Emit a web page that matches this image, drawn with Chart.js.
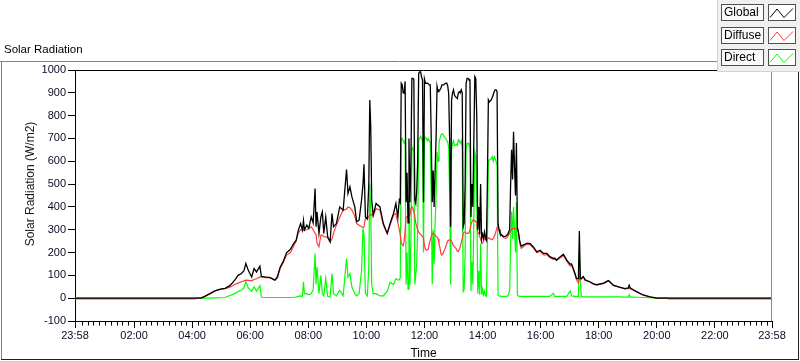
<!DOCTYPE html>
<html>
<head>
<meta charset="utf-8">
<script src="https://cdn.jsdelivr.net/npm/chart.js@4.4.1/dist/chart.umd.min.js"></script>
<style>
  html, body { margin: 0; padding: 0; background: #fff; }
  canvas { display: block; }
</style>
</head>
<body>
<canvas id="c" width="800" height="361"></canvas>
<script>
// time of each sample, minutes after midnight (-2 = 23:58 the day before)
const minutes = [
  -2, 246, 248, 258, 266, 277, 287, 298, 308, 318, 328, 335, 342, 347, 351, 356, 363, 368, 373, 380,
  383, 390, 401, 411, 416, 422, 428, 435, 443, 450, 455, 459, 464, 468, 470, 472, 477, 481, 486, 490,
  494, 496, 498, 502, 506, 509, 512, 516, 520, 525, 529, 532, 538, 545, 552, 559, 562, 566, 570, 576,
  580, 585, 590, 593, 595, 598, 602, 605, 607, 609, 611, 614, 620, 628, 635, 643, 649, 656, 661, 665,
  668, 670, 672, 674, 676, 678, 680, 682, 684, 686, 688, 690, 692, 694, 696, 698, 700, 702, 704, 706,
  708, 710, 712, 714, 716, 718, 720, 722, 724, 726, 728, 730, 732, 734, 736, 738, 740, 742, 744, 746,
  748, 750, 752, 754, 756, 758, 760, 762, 764, 766, 768, 770, 772, 774, 776, 778, 780, 782, 784, 786,
  788, 790, 792, 794, 796, 798, 800, 802, 804, 806, 808, 810, 812, 814, 816, 818, 820, 822, 824, 826,
  828, 830, 832, 834, 836, 838, 840, 842, 844, 846, 848, 850, 852, 854, 856, 858, 860, 862, 864, 866,
  868, 870, 872, 874, 876, 880, 884, 888, 892, 896, 898, 900, 902, 904, 906, 908, 910, 912, 914, 916,
  918, 920, 926, 931, 938, 945, 952, 959, 966, 973, 979, 986, 989, 993, 1000, 1007, 1014, 1021, 1024, 1031,
  1034, 1038, 1040, 1042, 1044, 1048, 1052, 1062, 1069, 1076, 1090, 1100, 1103, 1110, 1121, 1134, 1141, 1143, 1145, 1148,
  1158, 1172, 1186, 1200, 1222, 1224, 1438
];

const globalRad = [
  0, 0, 0, 0, 8, 20, 32, 40, 43, 55, 79, 100, 108, 120, 152, 122, 93, 130, 115, 140,
  96, 93, 90, 79, 93, 137, 160, 199, 214, 240, 254, 295, 327, 298, 340, 300, 320, 306, 356, 330,
  481, 313, 378, 284, 356, 378, 284, 356, 269, 247, 371, 313, 327, 400, 386, 564, 459, 488, 445, 400,
  335, 342, 430, 500, 587, 356, 348, 500, 868, 751, 430, 364, 415, 400, 327, 284, 327, 371, 415, 356,
  430, 420, 942, 935, 900, 898, 950, 420, 550, 330, 700, 420, 600, 963, 963, 960, 430, 415, 470, 600,
  985, 992, 992, 970, 957, 420, 960, 942, 942, 942, 940, 935, 935, 700, 420, 560, 400, 560, 700, 928,
  905, 913, 913, 920, 935, 935, 935, 940, 942, 942, 930, 898, 700, 313, 869, 900, 913, 890, 883, 880,
  875, 900, 905, 900, 913, 900, 313, 330, 500, 940, 963, 963, 957, 957, 356, 500, 400, 700, 971, 963,
  800, 300, 400, 280, 500, 260, 280, 262, 290, 265, 255, 500, 869, 860, 865, 869, 880, 890, 905, 913,
  913, 905, 330, 300, 285, 275, 270, 272, 280, 300, 500, 650, 520, 729, 580, 450, 680, 310, 291, 260,
  240, 228, 235, 240, 240, 225, 203, 210, 196, 196, 182, 175, 175, 167, 181, 193, 167, 149, 150, 108,
  86, 86, 294, 86, 86, 95, 80, 72, 63, 59, 66, 77, 72, 57, 50, 42, 45, 57, 45, 41,
  29, 14, 6, 0, 0, 0, 0
];

const diffuseRad = [
  -3, -3, 0, 0, 8, 20, 32, 38, 42, 48, 60, 66, 72, 76, 79, 78, 76, 82, 85, 93,
  92, 90, 90, 79, 88, 130, 155, 189, 200, 230, 250, 284, 300, 298, 300, 298, 300, 306, 313, 300,
  284, 280, 240, 225, 276, 276, 270, 269, 265, 247, 260, 284, 320, 355, 386, 390, 400, 396, 386, 360,
  327, 320, 313, 310, 313, 350, 345, 360, 364, 364, 368, 360, 393, 386, 320, 284, 320, 365, 371, 330,
  300, 276, 240, 235, 230, 250, 300, 356, 356, 360, 360, 365, 390, 400, 395, 380, 360, 330, 313, 300,
  290, 284, 280, 275, 270, 265, 230, 215, 210, 212, 215, 240, 254, 270, 284, 284, 280, 275, 270, 268,
  260, 240, 220, 195, 189, 195, 205, 215, 225, 240, 250, 254, 254, 254, 250, 240, 230, 225, 220, 215,
  205, 205, 215, 225, 245, 260, 284, 290, 290, 285, 284, 285, 290, 300, 320, 335, 342, 342, 340, 335,
  330, 290, 284, 270, 260, 245, 240, 250, 262, 258, 250, 262, 265, 262, 260, 258, 256, 262, 270, 280,
  295, 310, 320, 300, 285, 275, 265, 262, 270, 285, 295, 300, 305, 306, 306, 305, 304, 300, 290, 255,
  232, 218, 230, 236, 235, 220, 200, 205, 190, 190, 178, 170, 172, 165, 176, 187, 162, 140, 145, 104,
  82, 66, 95, 80, 85, 92, 78, 70, 61, 58, 64, 75, 70, 56, 49, 41, 42, 43, 42, 40,
  28, 13, 6, 0, 0, -3, -3
];

const directRad = [
  0, 0, 0, 0, 0, 0, 1, 2, 3, 12, 20, 30, 35, 45, 72, 45, 30, 50, 30, 55,
  5, 3, 3, 3, 3, 3, 3, 3, 3, 4, 5, 8, 10, 8, 72, 20, 20, 15, 20, 35,
  196, 60, 137, 20, 100, 20, 10, 86, 8, 5, 108, 20, 10, 35, 10, 174, 93, 108, 50, 20,
  10, 20, 120, 306, 280, 20, 10, 140, 503, 390, 60, 20, 20, 10, 10, 30, 70, 60, 86, 80,
  80, 90, 700, 700, 690, 680, 690, 60, 200, 40, 400, 60, 250, 650, 660, 640, 60, 100, 150, 300,
  690, 700, 710, 700, 690, 200, 710, 700, 700, 690, 700, 690, 680, 450, 60, 300, 150, 330, 450, 640,
  600, 680, 700, 715, 720, 720, 710, 705, 700, 690, 685, 660, 450, 60, 650, 680, 690, 670, 670, 675,
  670, 695, 690, 680, 690, 660, 30, 40, 200, 650, 680, 680, 670, 660, 30, 160, 60, 350, 640, 620,
  470, 20, 120, 15, 240, 15, 40, 15, 30, 10, 8, 250, 600, 605, 610, 610, 620, 600, 620, 610,
  600, 580, 15, 10, 10, 8, 8, 8, 10, 30, 250, 380, 260, 400, 300, 200, 420, 15, 10, 8,
  8, 8, 8, 8, 8, 8, 8, 8, 8, 8, 8, 22, 8, 8, 8, 8, 8, 32, 10, 8,
  8, 8, 196, 80, 8, 6, 6, 6, 6, 6, 6, 6, 6, 6, 6, 5, 5, 15, 5, 5,
  4, 3, 2, 0, 0, 0, 0
];

// labelled ticks on the time axis
const tickMinutes = [-2, 120, 240, 360, 480, 600, 720, 840, 960, 1080, 1200, 1320, 1438];
const tickLabels = ['23:58', '02:00', '04:00', '06:00', '08:00', '10:00', '12:00',
                    '14:00', '16:00', '18:00', '20:00', '22:00', '23:58'];

const seriesNames = ['Global', 'Diffuse', 'Direct'];
const seriesColors = ['#000000', '#ff3c3c', '#00ff00'];

const FONT = '"Liberation Sans", Arial, sans-serif';

const pts = (vals) => vals.map((v, i) => ({ x: minutes[i], y: v }));

// frame, plot borders, minor ticks, titles and the boxy legend
const decor = {
  id: 'decor',
  afterDraw(chart) {
    const ctx = chart.ctx;
    const a = chart.chartArea;
    const xs = chart.scales.x;
    ctx.save();

    // outer frame
    ctx.lineWidth = 1;
    ctx.strokeStyle = '#828282';
    ctx.beginPath();
    ctx.moveTo(0, 61.5); ctx.lineTo(799, 61.5);
    ctx.moveTo(1.5, 61); ctx.lineTo(1.5, 360);
    ctx.stroke();
    ctx.strokeStyle = '#1e1e1e';
    ctx.beginPath();
    ctx.moveTo(1, 359.5); ctx.lineTo(799, 359.5);
    ctx.moveTo(798.5, 61); ctx.lineTo(798.5, 360);
    ctx.stroke();

    // plot top and right edges
    ctx.strokeStyle = '#000';
    ctx.beginPath();
    ctx.moveTo(a.left, Math.round(a.top) + 0.5); ctx.lineTo(a.right, Math.round(a.top) + 0.5);
    ctx.stroke();
    ctx.strokeStyle = '#8c8c8c';
    ctx.beginPath();
    ctx.moveTo(Math.round(a.right) - 0.5, a.top); ctx.lineTo(Math.round(a.right) - 0.5, a.bottom);
    ctx.stroke();

    // minor ticks every 12 minutes
    ctx.strokeStyle = '#000';
    ctx.beginPath();
    for (let m = 0; m < 1440; m += 12) {
      if (m % 120 === 0) continue;
      const px = Math.round(xs.getPixelForValue(m)) + 0.5;
      ctx.moveTo(px, a.bottom); ctx.lineTo(px, a.bottom + 4.5);
    }
    ctx.stroke();

    // graph name
    ctx.fillStyle = '#000';
    ctx.font = '11.5px ' + FONT;
    ctx.textAlign = 'left';
    ctx.textBaseline = 'middle';
    ctx.fillText('Solar Radiation', 4, 50);

    // y axis name
    ctx.save();
    ctx.translate(31, 184);
    ctx.rotate(-Math.PI / 2);
    ctx.textAlign = 'center';
    ctx.font = '12px ' + FONT;
    ctx.fillStyle = '#1a1410';
    ctx.fillText('Solar Radiation (W/m2)', 0, 0);
    ctx.restore();

    // legend panel
    ctx.fillStyle = '#f0f0f0';
    ctx.fillRect(717, 0, 83, 72);
    ctx.strokeStyle = '#d2d2d2';
    ctx.beginPath();
    ctx.moveTo(717.5, 0); ctx.lineTo(717.5, 71.5); ctx.lineTo(800, 71.5);
    ctx.stroke();

    chart.data.datasets.forEach((ds, i) => {
      const top = 4 + i * 22.5;
      const y0 = Math.round(top) + 0.5;
      ctx.fillStyle = '#fafafa';
      ctx.fillRect(721, y0, 42, 16);
      ctx.strokeStyle = '#505050';
      ctx.strokeRect(721.5, y0, 42, 16);
      ctx.fillStyle = '#000';
      ctx.font = '12px ' + FONT;
      ctx.textAlign = 'left';
      ctx.fillText(ds.label, 724, y0 + 8.5);

      ctx.fillStyle = '#fff';
      ctx.fillRect(768, y0, 28, 16);
      ctx.strokeStyle = '#505050';
      ctx.strokeRect(768.5, y0, 27, 16);
      ctx.strokeStyle = ds.borderColor;
      ctx.beginPath();
      ctx.moveTo(770, y0 + 13);
      ctx.lineTo(777, y0 + 4.5);
      ctx.lineTo(784, y0 + 13);
      ctx.lineTo(793, y0 + 4);
      ctx.stroke();
    });

    ctx.restore();
  }
};

new Chart(document.getElementById('c'), {
  type: 'line',
  data: {
    datasets: [
      { label: seriesNames[0], data: pts(globalRad), borderColor: seriesColors[0], borderWidth: 1.3 },
      { label: seriesNames[1], data: pts(diffuseRad), borderColor: seriesColors[1], borderWidth: 1.2 },
      { label: seriesNames[2], data: pts(directRad), borderColor: seriesColors[2], borderWidth: 1.2 },
    ].map(d => ({ ...d, pointRadius: 0, tension: 0, fill: false })),
  },
  options: {
    responsive: false, animation: false, events: [],
    layout: { padding: { left: 0, top: 70, right: 28, bottom: 0 } },
    plugins: { legend: { display: false }, tooltip: { enabled: false } },
    scales: {
      x: {
        type: 'linear', min: -2, max: 1438,
        afterBuildTicks: (s) => { s.ticks = tickMinutes.map(v => ({ value: v })); },
        afterFit: (s) => { s.height = 40; },
        ticks: {
          autoSkip: false, maxRotation: 0, padding: 1, color: '#0a0a28',
          font: { family: FONT, size: 11 },
          callback: (v) => tickLabels[tickMinutes.indexOf(v)] ?? '',
        },
        grid: { drawOnChartArea: false, tickLength: 7, tickColor: '#000', tickWidth: 1 },
        border: { color: '#000', width: 1 },
        title: { display: true, text: 'Time', color: '#000', font: { family: FONT, size: 12 }, padding: 0 },
      },
      y: {
        min: -100, max: 1000,
        afterFit: (s) => { s.width = 75; },
        ticks: {
          stepSize: 100, padding: 2, color: '#0a0a28', font: { family: FONT, size: 11 },
          callback: (v) => String(v),
        },
        grid: { drawOnChartArea: false, tickLength: 7, tickColor: '#000', tickWidth: 1 },
        border: { color: '#000', width: 1 },
      },
    },
  },
  plugins: [decor],
});
</script>
</body>
</html>
